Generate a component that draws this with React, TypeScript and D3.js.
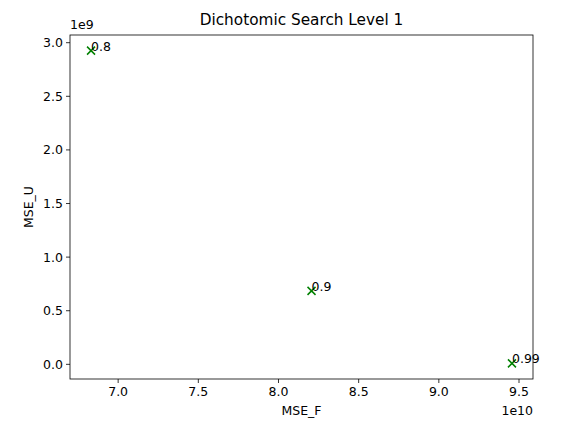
import React from "react";
import * as d3 from "d3";

// values (x in 1e10, y in 1e9)
const mseF = [6.831, 8.206, 9.456];
const mseU = [2.926, 0.685, 0.009];
const labels = ["0.8", "0.9", "0.99"];
const xTicks = [7.0, 7.5, 8.0, 8.5, 9.0, 9.5];
const yTicks = [0.0, 0.5, 1.0, 1.5, 2.0, 2.5, 3.0];

const W = 574;
const H = 429;
const margin = { left: 70, right: 41, top: 35, bottom: 50 };
const font = "DejaVu Sans, sans-serif";

const App = () => {
  const [x0, x1] = d3.extent(mseF) as [number, number];
  const [y0, y1] = d3.extent(mseU) as [number, number];
  const px = (x1 - x0) * 0.05;
  const py = (y1 - y0) * 0.05;

  const x = d3
    .scaleLinear()
    .domain([x0 - px, x1 + px])
    .range([margin.left, W - margin.right]);
  const y = d3
    .scaleLinear()
    .domain([y0 - py, y1 + py])
    .range([H - margin.bottom, margin.top]);

  const left = margin.left;
  const right = W - margin.right;
  const top = margin.top;
  const bottom = H - margin.bottom;
  const mid = (left + right) / 2;
  const s = 4;

  return (
    <svg
      width={W}
      height={H}
      style={{ position: "absolute", left: 0, top: 0, background: "#fff" }}
      fontFamily={font}
    >
      <text x={mid} y={25} textAnchor="middle" fontSize={15.3} fill="#000">
        Dichotomic Search Level 1
      </text>

      {/* x ticks */}
      {xTicks.map((t) => (
        <g key={"x" + t}>
          <line x1={x(t)} x2={x(t)} y1={bottom} y2={bottom + 4} stroke="#000" strokeWidth={0.8} />
          <text x={x(t)} y={bottom + 17} textAnchor="middle" fontSize={12.5} fill="#000">
            {t.toFixed(1)}
          </text>
        </g>
      ))}
      {/* y ticks */}
      {yTicks.map((t) => (
        <g key={"y" + t}>
          <line x1={left - 4} x2={left} y1={y(t)} y2={y(t)} stroke="#000" strokeWidth={0.8} />
          <text x={left - 7} y={y(t) + 4.5} textAnchor="end" fontSize={12.5} fill="#000">
            {t.toFixed(1)}
          </text>
        </g>
      ))}

      <text x={left} y={29} fontSize={12.5} fill="#000">1e9</text>
      <text x={right} y={415} textAnchor="end" fontSize={12.5} fill="#000">1e10</text>
      <text x={mid} y={415} textAnchor="middle" fontSize={12.5} fill="#000">MSE_F</text>
      <text
        transform={`translate(33,${(top + bottom) / 2}) rotate(-90)`}
        textAnchor="middle"
        fontSize={12.5}
        fill="#000"
      >
        MSE_U
      </text>

      {/* points */}
      {mseF.map((v, i) => (
        <g key={"p" + i}>
          <path
            d={`M${x(v) - s},${y(mseU[i]) - s}L${x(v) + s},${y(mseU[i]) + s}M${x(v) - s},${y(mseU[i]) + s}L${x(v) + s},${y(mseU[i]) - s}`}
            stroke="green"
            strokeWidth={1.5}
            fill="none"
          />
          <text x={x(v)} y={y(mseU[i])} fontSize={12.5} fill="#000">
            {labels[i]}
          </text>
        </g>
      ))}

      <rect
        x={left}
        y={top}
        width={right - left}
        height={bottom - top}
        fill="none"
        stroke="#000"
        strokeWidth={0.8}
      />
    </svg>
  );
};

export default App;
